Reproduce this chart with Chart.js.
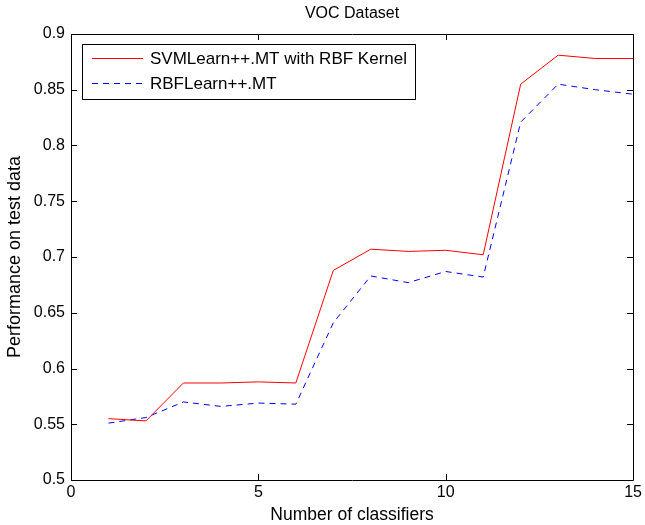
<!DOCTYPE html>
<html>
<head>
<meta charset="utf-8">
<script src="https://cdn.jsdelivr.net/npm/chart.js@4"></script>
<style>
  html, body { margin: 0; padding: 0; background: #fff; }
  #wrap { width: 645px; height: 525px; }
</style>
</head>
<body>
<div id="wrap"><canvas id="chart"></canvas></div>
<script>
// values
const classifiers = [1, 2, 3, 4, 5, 6, 7, 8, 9, 10, 11, 12, 13, 14, 15];
const svmScores = [0.555, 0.553, 0.587, 0.587, 0.588, 0.587, 0.688, 0.707, 0.705, 0.706, 0.702, 0.855, 0.881, 0.878, 0.878];
const rbfScores = [0.551, 0.556, 0.570, 0.566, 0.569, 0.568, 0.641, 0.683, 0.677, 0.687, 0.682, 0.821, 0.855, 0.850, 0.846];
const seriesNames = ['SVMLearn++.MT with RBF Kernel', 'RBFLearn++.MT'];
const xTicks = [0, 5, 10, 15];
const yTicks = [0.5, 0.55, 0.6, 0.65, 0.7, 0.75, 0.8, 0.85, 0.9];
const chartTitle = 'VOC Dataset';
const xLabel = 'Number of classifiers';
const yLabel = 'Performance on test data';

const fontFamily = '"Liberation Sans", Helvetica, Arial, sans-serif';

// matlab style box with inward ticks, titles and legend inside the axes
const matlabBox = {
    id: 'matlabBox',
    afterDatasetsDraw(chart) {
        const ctx = chart.ctx;
        const a = chart.chartArea;
        const xs = chart.scales.x, ys = chart.scales.y;
        ctx.save();
        ctx.strokeStyle = '#000';
        ctx.lineWidth = 1;
        ctx.beginPath();
        ctx.rect(Math.round(a.left) + 0.5, Math.round(a.top) + 0.5,
                 Math.round(a.right - a.left), Math.round(a.bottom - a.top));
        xTicks.forEach(v => {
            const px = Math.round(xs.getPixelForValue(v)) + 0.5;
            ctx.moveTo(px, a.bottom); ctx.lineTo(px, a.bottom - 6);
            ctx.moveTo(px, a.top); ctx.lineTo(px, a.top + 6);
        });
        yTicks.forEach(v => {
            const py = Math.round(ys.getPixelForValue(v)) + 0.5;
            ctx.moveTo(a.left, py); ctx.lineTo(a.left + 6, py);
            ctx.moveTo(a.right, py); ctx.lineTo(a.right - 6, py);
        });
        ctx.stroke();

        // titles
        const cx = (a.left + a.right) / 2;
        ctx.fillStyle = '#000';
        ctx.textAlign = 'center';
        ctx.textBaseline = 'middle';
        ctx.font = '16px ' + fontFamily;
        ctx.fillText(chartTitle, cx, 14);
        ctx.font = '17.5px ' + fontFamily;
        ctx.fillText(xLabel, cx, 515);
        ctx.save();
        ctx.translate(15, (a.top + a.bottom) / 2);
        ctx.rotate(-Math.PI / 2);
        ctx.font = '18px ' + fontFamily;
        ctx.fillText(yLabel, 0, 0);
        ctx.restore();

        // legend
        const lx = 82, ly = 44, lw = 333, lh = 55;
        ctx.fillStyle = '#fff';
        ctx.fillRect(lx, ly, lw, lh);
        ctx.strokeRect(lx + 0.5, ly + 0.5, lw, lh);
        ctx.font = '17px ' + fontFamily;
        ctx.textAlign = 'left';
        chart.data.datasets.forEach((ds, i) => {
            const y = ly + 14 + i * 25;
            ctx.beginPath();
            ctx.strokeStyle = ds.borderColor;
            ctx.setLineDash(ds.borderDash || []);
            ctx.moveTo(92, y + 0.5);
            ctx.lineTo(143, y + 0.5);
            ctx.stroke();
            ctx.setLineDash([]);
            ctx.fillStyle = '#000';
            ctx.fillText(ds.label, 150, y + 1);
        });
        ctx.restore();
    }
};

const ctx = document.getElementById('chart').getContext('2d');
new Chart(ctx, {
    type: 'line',
    data: {
        datasets: [{
            label: seriesNames[0],
            data: classifiers.map((c, i) => ({ x: c, y: svmScores[i] })),
            borderColor: 'rgb(255,0,0)',
            borderWidth: 1,
            pointRadius: 0,
            tension: 0
        }, {
            label: seriesNames[1],
            data: classifiers.map((c, i) => ({ x: c, y: rbfScores[i] })),
            borderColor: 'rgb(0,0,255)',
            borderWidth: 1,
            borderDash: [6, 5],
            pointRadius: 0,
            tension: 0
        }]
    },
    options: {
        responsive: true,
        maintainAspectRatio: false,
        animation: false,
        layout: { padding: { top: 34, right: 9, left: 0, bottom: 0 } },
        plugins: {
            legend: { display: false },
            tooltip: { enabled: false },
            title: { display: false }
        },
        scales: {
            x: {
                type: 'linear',
                min: 0,
                max: 15,
                afterBuildTicks: s => { s.ticks = xTicks.map(v => ({ value: v })); },
                afterFit: s => { s.height = 45; },
                grid: { display: false, drawTicks: false },
                border: { display: false },
                ticks: {
                    color: '#000',
                    padding: 3,
                    maxRotation: 0,
                    font: { family: fontFamily, size: 16 }
                }
            },
            y: {
                min: 0.5,
                max: 0.9,
                afterBuildTicks: s => { s.ticks = yTicks.map(v => ({ value: v })); },
                afterFit: s => { s.width = 71; },
                grid: { display: false, drawTicks: false },
                border: { display: false },
                ticks: {
                    color: '#000',
                    padding: 6,
                    font: { family: fontFamily, size: 16 },
                    callback: v => String(parseFloat(v.toFixed(2)))
                }
            }
        }
    },
    plugins: [matlabBox]
});
</script>
</body>
</html>
